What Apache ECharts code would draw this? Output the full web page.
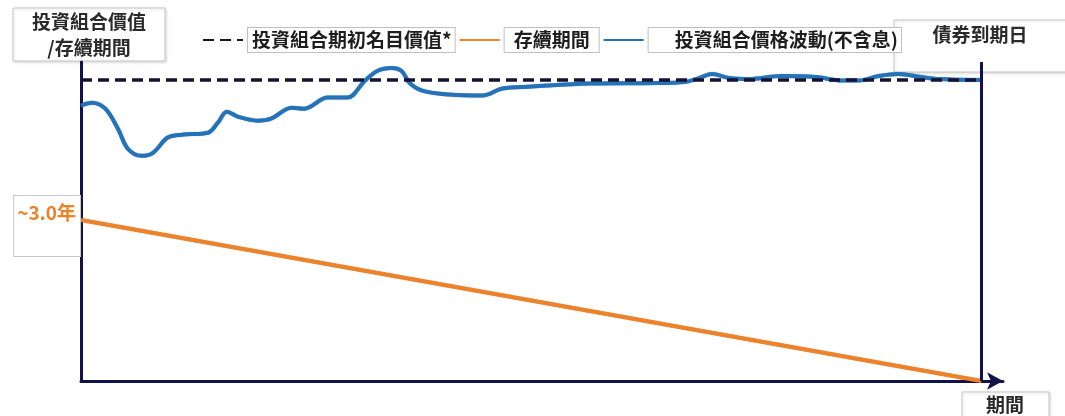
<!DOCTYPE html>
<html>
<head>
<meta charset="utf-8">
<script src="https://cdn.jsdelivr.net/npm/echarts@6/dist/echarts.min.js"></script>
<style>
html,body{margin:0;padding:0;background:#fff;}
#chart{width:1065px;height:416px;}
</style>
</head>
<body>
<div id="chart"></div>
<script>
// ---- data ----
const seriesNames = ['投資組合期初名目價值*', '存續期間', '投資組合價格波動(不含息)'];
const nominalX = [0, 100];
const nominalY = [100, 100];
const durationX = [0, 100];
const durationY = [3.0, 0];
const priceX = [0, 1.2, 2.7, 4.1, 5.2, 6.7, 8.0, 9.6, 11.2, 14.1, 15.2, 16.2, 17.4, 19.6, 21.1, 23.4, 24.8, 27.4, 29.6, 31.5, 32.9, 34.5, 35.6, 36.5, 37.9, 40.9, 44.6, 46.8, 50.1, 56.4, 63.9, 67.0, 68.6, 70.1, 72.0, 74.2, 77.8, 81.6, 84.5, 86.4, 88.6, 90.8, 93.3, 95.2, 100];
const priceY = [94.9, 95.5, 94.3, 90.3, 86.3, 84.9, 85.5, 88.5, 89.1, 89.5, 91.5, 93.7, 92.7, 91.9, 92.3, 94.5, 94.3, 96.5, 96.5, 99.8, 101.8, 102.4, 101.8, 99.4, 97.9, 97.1, 96.9, 98.3, 98.7, 99.3, 99.4, 99.6, 100.4, 101.2, 100.4, 100.2, 100.8, 100.6, 99.9, 99.9, 100.8, 101.2, 100.6, 100.2, 100.0];
const maturityX = 100;
const durationLabel = '~3.0年';
const yTitle = '投資組合價值\n/存續期間';
const maturityTitle = '債券到期日';
const xTitle = '期間';

const zip = (xs, ys) => xs.map((x, i) => [x, ys[i]]);
const FONT = '"Noto Sans CJK TC", "Noto Sans CJK SC", sans-serif';
const NAVY = '#12124a';

const durationData = zip(durationX, durationY).map((d, i) => i === 0 ? {
  value: d,
  label: {
    show: true, position: 'left', distance: 1, offset: [0, 6],
    formatter: durationLabel + '\n\u3000', color: '#ee8229', fontSize: 19, fontWeight: 'bold', fontFamily: FONT,
    lineHeight: 26,
    backgroundColor: '#fff', borderColor: '#c8c8c8', borderWidth: 1,
    padding: [2, 4, 6, 3]
  }
} : d);

function box(x, y, w, h, text, tx, ty) {
  return {
    type: 'group', z: 1,
    children: [
      { type: 'rect', shape: { x: x, y: y, width: w, height: h },
        style: { fill: '#fff', stroke: '#c8c8c8', lineWidth: 1, shadowBlur: 3, shadowColor: 'rgba(0,0,0,0.15)', shadowOffsetX: 1, shadowOffsetY: 1 } },
      { type: 'text', x: tx, y: ty,
        style: { text: text, fill: '#2a2a2a', font: 'bold 19px ' + FONT, align: 'center', verticalAlign: 'middle', lineHeight: 26 } }
    ]
  };
}

const chart = echarts.init(document.getElementById('chart'), null, { renderer: 'canvas' });
chart.setOption({
  animation: false,
  backgroundColor: '#fff',
  grid: { left: 81, right: 62, top: 62, bottom: 35 },
  legend: {
    left: 197, top: 22,
    itemWidth: 40, itemHeight: 14, itemGap: 3,
    itemStyle: { opacity: 0 },
    textStyle: {
      fontFamily: FONT, fontSize: 19, fontWeight: 'bold', color: '#1e1e1e',
      backgroundColor: '#fff', borderColor: '#c0c0c0', borderWidth: 1
    },
    data: [
      { name: seriesNames[0], textStyle: { padding: [3, 3, 2, 4] } },
      { name: seriesNames[1], textStyle: { padding: [3, 9, 2, 9] } },
      { name: seriesNames[2], textStyle: { padding: [3, 3, 2, 26] } }
    ]
  },
  xAxis: {
    type: 'value', min: 0, max: 102.4,
    axisLine: { show: true, symbol: ['none', 'arrow'], symbolSize: [13, 16], lineStyle: { color: NAVY, width: 3 } },
    axisTick: { show: false }, axisLabel: { show: false }, splitLine: { show: false }
  },
  yAxis: [
    {
      type: 'value', min: 40, max: 103.6,
      axisLine: { show: true, onZero: false, lineStyle: { color: NAVY, width: 3 } },
      axisTick: { show: false }, axisLabel: { show: false }, splitLine: { show: false }
    },
    {
      type: 'value', min: 0, max: 5.944, show: false,
      axisLine: { show: false }, axisTick: { show: false }, axisLabel: { show: false }, splitLine: { show: false }
    }
  ],
  series: [
    {
      name: seriesNames[2], type: 'line', yAxisIndex: 0, z: 3,
      data: zip(priceX, priceY), smooth: 0.35, showSymbol: false, symbol: 'none',
      itemStyle: { color: '#2273b9' },
      lineStyle: { color: '#2273b9', width: 4, shadowColor: 'rgba(20,60,110,0.5)', shadowBlur: 1 }
    },
    {
      name: seriesNames[1], type: 'line', yAxisIndex: 1, z: 3,
      data: durationData, showSymbol: true, symbol: 'circle', symbolSize: 0,
      itemStyle: { color: '#ee8229' },
      lineStyle: { color: '#ee8229', width: 4, shadowColor: 'rgba(150,80,20,0.5)', shadowBlur: 1 }
    },
    {
      name: seriesNames[0], type: 'line', yAxisIndex: 0, z: 4,
      data: zip(nominalX, nominalY), showSymbol: false, symbol: 'none',
      itemStyle: { color: '#141432' },
      lineStyle: { color: '#141432', width: 3.5, type: [11, 6] },
      markLine: {
        silent: true, symbol: 'none', label: { show: false },
        lineStyle: { color: NAVY, width: 3, type: 'solid' },
        data: [{ xAxis: maturityX }]
      }
    }
  ],
  graphic: [
    box(13, 8, 152, 53, yTitle, 89, 35),
    box(894, 20, 190, 52, maturityTitle, 980, 35),
    box(962, 392, 87, 30, xTitle, 1005, 405)
  ]
});
</script>
</body>
</html>
